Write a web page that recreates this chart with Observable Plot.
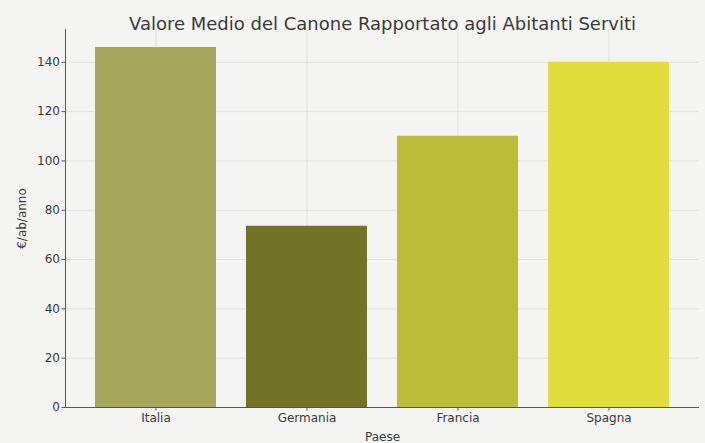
<!DOCTYPE html>
<html>
<head>
<meta charset="utf-8">
<script src="https://cdn.jsdelivr.net/npm/d3@7"></script>
<script src="https://cdn.jsdelivr.net/npm/@observablehq/plot@0.6"></script>
<style>
  html, body { margin: 0; padding: 0; background: #f4f4f2; }
  svg { display: block; }
</style>
</head>
<body>
<div id="chart"></div>
<script>
const titleText = "Valore Medio del Canone Rapportato agli Abitanti Serviti";
const countries = ["Italia", "Germania", "Francia", "Spagna"];
const values = [146, 73.5, 110, 140];
const colors = ["#a7a75c", "#737328", "#bcbc39", "#e1dd3d"];
const yTicks = [0, 20, 40, 60, 80, 100, 120, 140];
const xLabel = "Paese";
const yLabel = "€/ab/anno";

const data = countries.map((c, i) => ({country: c, value: values[i], color: colors[i]}));
const yMax = d3.max(values) * 1.05;

const chart = Plot.plot({
  width: 705,
  height: 443,
  marginLeft: 65,
  marginRight: 6,
  marginTop: 29,
  marginBottom: 36,
  style: {background: "#f4f4f2", fontFamily: "DejaVu Sans, sans-serif", fontSize: "12px", color: "#3a3a3a"},
  x: {domain: countries, paddingInner: 0.2, paddingOuter: 0.19, align: 0.5},
  y: {domain: [0, yMax]},
  marks: [
    Plot.gridY(yTicks, {stroke: "#dcdcdc", strokeOpacity: 1, strokeWidth: 0.8}),
    Plot.gridX(countries, {stroke: "#dcdcdc", strokeOpacity: 1, strokeWidth: 0.8}),
    Plot.barY(data, {x: "country", y: "value", fill: "color"}),
    Plot.frame({anchor: "left", stroke: "#555", strokeWidth: 1}),
    Plot.ruleY([0], {stroke: "#555", strokeWidth: 1}),
    Plot.axisY(yTicks, {tickSize: 3.5, tickPadding: 2, stroke: "#555", fill: "#3a3a3a", fontSize: 12,
      label: yLabel, labelAnchor: "center", labelOffset: 48, labelArrow: "none"}),
    Plot.axisX({tickSize: 3.5, tickPadding: 2, stroke: "#555", fill: "#3a3a3a", fontSize: 12,
      label: xLabel, labelAnchor: "center", labelOffset: 33, labelArrow: "none"}),
    Plot.text([titleText], {frameAnchor: "top", dy: -12, fontSize: 18, fill: "#3a3a3a"})
  ]
});
document.getElementById("chart").appendChild(chart);
</script>
</body>
</html>
